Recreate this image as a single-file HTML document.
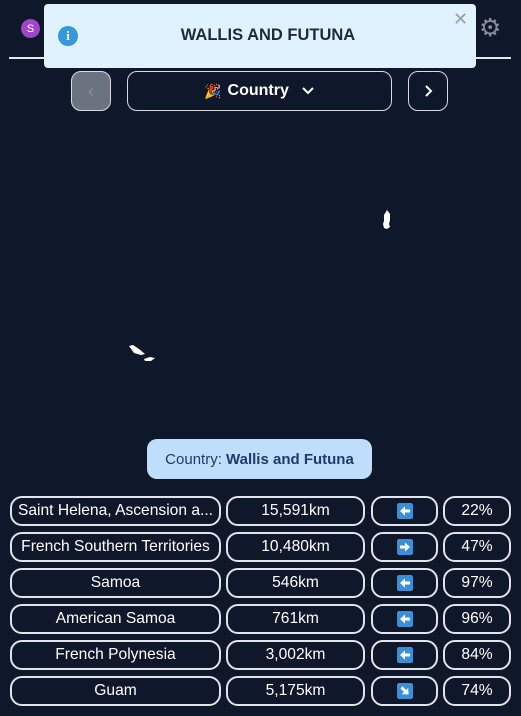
<!DOCTYPE html>
<html><head><meta charset="utf-8"><style>
*{box-sizing:border-box;margin:0;padding:0}
body{width:521px;height:716px;background:#0f172a;font-family:"Liberation Sans","DejaVu Sans",sans-serif;color:#fff;position:relative;overflow:hidden}
.abs{position:absolute}
.btn{position:absolute;border:1.5px solid #d8dbe0;border-radius:10px;display:flex;align-items:center;justify-content:center}
.cell{position:absolute;height:30px;border:2px solid #e2e4e8;border-radius:12px;display:flex;align-items:center;justify-content:center;font-size:15.6px;white-space:nowrap;overflow:hidden}
.ic{width:16px;height:16px;border-radius:2px}
</style></head><body>
<div class="abs" style="left:21px;top:19px;width:19px;height:19px;border-radius:50%;background:#a044c8;font-size:11px;display:flex;align-items:center;justify-content:center">S</div>
<div class="abs" style="left:479px;top:15px;font-size:25px;color:#8a8f98;line-height:26px">⚙</div>
<div class="abs" style="left:9px;top:57px;width:502px;height:2px;background:#e5e7eb"></div>
<div class="abs" style="left:44px;top:4px;width:432px;height:64px;background:#e0f2fe;border-radius:4px">
 <div class="abs" style="left:14px;top:22px;width:20px;height:20px;border-radius:50%;background:#3498db;color:#fff;font-size:13px;font-weight:bold;display:flex;align-items:center;justify-content:center;font-family:'Liberation Serif',serif">i</div>
 <div class="abs" style="left:0;width:448px;top:22px;text-align:center;font-size:16.5px;font-weight:bold;color:#1f2937">WALLIS AND FUTUNA</div>
 <div class="abs" style="left:409px;top:6px;font-size:18px;color:#9aa0a6;line-height:18px">✕</div>
</div>
<div class="btn" style="left:71px;top:71px;width:40px;height:40px;background:#6b7280;color:#8a909a;font-size:18px">‹</div>
<div class="btn" style="left:127px;top:71px;width:265px;height:40px;font-size:16px;font-weight:bold"><span style="font-size:14px;margin-right:6px">🎉</span>Country<svg width="14" height="10" style="margin-left:12px" viewBox="0 0 14 10"><path d="M2 2l5 5 5-5" stroke="#fff" stroke-width="2" fill="none"/></svg></div>
<div class="btn" style="left:408px;top:71px;width:40px;height:40px"><svg width="10" height="14" viewBox="0 0 10 14"><path d="M3 2l5 5-5 5" stroke="#fff" stroke-width="2" fill="none"/></svg></div>
<svg class="abs" style="left:0;top:120px" width="521" height="310">
 <path d="M387 90 l3 4 0 6 -1 4 1 3 -3 2 -3 -1 -1 -4 1 -3 0 -6z" fill="#fff"/>
 <path d="M129 226 l4 -1 6 4 6 5 -4 1 -7 -2z" fill="#fff"/>
 <path d="M144 239 l6 -2 5 1 -4 3 -6 0z" fill="#fff"/>
</svg>
<div class="abs" style="left:147px;top:439px;width:225px;height:40px;background:#bfdefb;border-radius:10px;color:#1e3a6e;font-size:15px;display:flex;align-items:center;justify-content:center">Country:&nbsp;<b>Wallis and Futuna</b></div>
<div id="rows"></div>
<script>
const countries=["Saint Helena, Ascension a...","French Southern Territories","Samoa","American Samoa","French Polynesia","Guam"];
const distances=["15,591km","10,480km","546km","761km","3,002km","5,175km"];
const directions=["W","E","W","W","W","SE"];
const percents=["22%","47%","97%","96%","84%","74%"];
const rot={E:0,SE:45,S:90,SW:135,W:180,NW:225,N:270,NE:315};
const rows=document.getElementById('rows');
countries.forEach((c,i)=>{
 const top=496+i*36;
 const mk=(l,w,html,name)=>{const d=document.createElement('div');d.className='cell';d.style.left=l+'px';d.style.top=top+'px';d.style.width=w+'px';d.innerHTML=html;
 
 
 rows.appendChild(d);};
 mk(10,211,c,'guess-name');
 mk(226,139,distances[i],'guess-distance');
 mk(371,67,'<svg class="ic" width="16" height="16" viewBox="0 0 16 16"><rect width="16" height="16" rx="2" fill="#3b8fd6"/><g transform="rotate('+rot[directions[i]]+' 8 8)"><path d="M3 6.5h5V3.5l5 4.5-5 4.5V9.5H3z" fill="#fff"/></g></svg>','guess-direction');
 mk(443,68,percents[i],'guess-proximity');
});
</script>
</body></html>
